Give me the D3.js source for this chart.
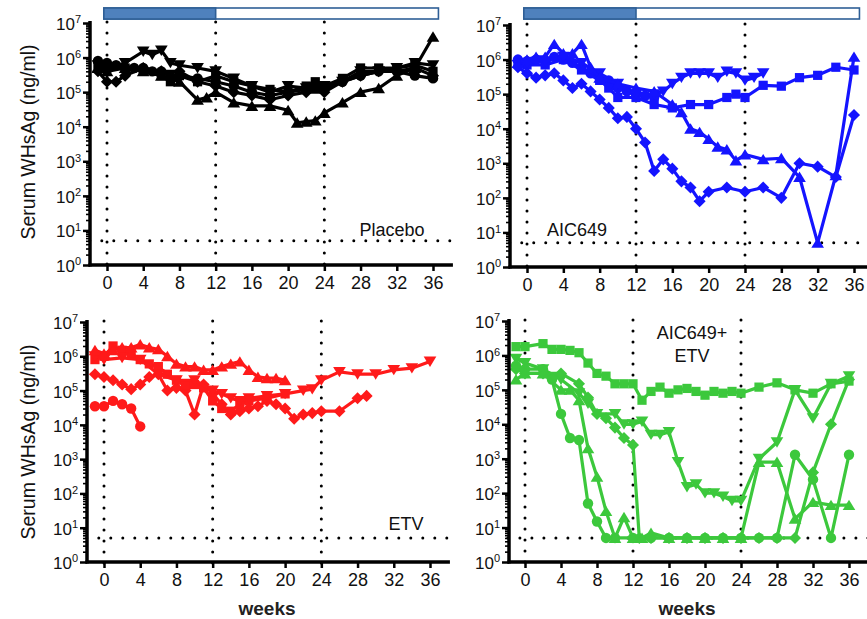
<!DOCTYPE html>
<html><head><meta charset="utf-8">
<script src="https://cdn.jsdelivr.net/npm/d3@7"></script>
<style>
body{margin:0;background:#fff;}
svg{display:block;font-family:Arial,"Liberation Sans",sans-serif;}
</style></head><body>
<svg id="c" width="867" height="619"></svg>
<script>
// ---------- data ----------
const weekTicks = [0,4,8,12,16,20,24,28,32,36];
const yTicks = [1,10,100,1000,1e4,1e5,1e6,1e7];
const yExponents = ["0","1","2","3","4","5","6","7"];
const vLines = [0,12,24];
const detectionLimit = 5;
const treatmentEnd = 12;
const panelLabels = ["Placebo","AIC649","ETV","AIC649+ETV"];
const yTitle = "Serum WHsAg (ng/ml)";
const xTitle = "weeks";

// Placebo (black)
const placeboCircle = [[-1,8e5],[0,7e5],[1,6e5],[2,5e5],[3,5e5],[4,5e5],[5,4e5],[6,4e5],[7,3e5],[8,3e5],[10,2.5e5],[12,2e5],[14,1.5e5],[16,1e5],[18,8e4],[20,1e5],[22,1.2e5],[24,1.2e5],[26,2e5],[28,3e5],[30,4e5],[32,4e5],[34,3e5],[36,2.5e5]];
const placeboSquare = [[-1,6e5],[0,5e5],[2,5e5],[4,4e5],[6,3e5],[7,2e5],[8,3e5],[10,2e5],[12,3e5],[14,2e5],[16,1.5e5],[18,1.2e5],[20,1e5],[22,1.5e5],[23,2e5],[24,1.5e5],[26,2.5e5],[28,5e5],[30,5e5],[32,5e5],[34,6e5],[36,4e5]];
const placeboTriUp = [[-1,5e5],[0,4e5],[2,5e5],[4,4e5],[6,3e5],[8,2e5],[10,6e4],[11,7e4],[12,1e5],[14,5e4],[16,4e4],[18,4e4],[20,3e4],[21,1.3e4],[22,1.4e4],[23,1.5e4],[24,2.5e4],[26,5e4],[28,1e5],[30,1.3e5],[32,3e5],[34,5e5],[36,4e6]];
const placeboTriDown = [[-1,6e5],[0,5e5],[2,7e5],[4,1.5e6],[5,1.2e6],[6,1.6e6],[7,7e5],[8,6e5],[10,5e5],[12,4e5],[14,2.5e5],[16,1.5e5],[18,1e5],[20,1.5e5],[22,1.3e5],[24,1.5e5],[26,2e5],[28,4e5],[30,4e5],[32,5e5],[34,7e5],[36,6e5]];
const placeboDiamond = [[-1,4e5],[0,2e5],[1,2e5],[2,3e5],[4,5e5],[6,4e5],[8,4e5],[10,2e5],[12,1.5e5],[14,1e5],[16,8e4],[18,6e4],[20,8e4],[22,1e5],[24,1e5],[26,2e5],[28,3e5],[30,4e5],[32,4e5],[34,5e5],[36,3e5]];

// AIC649 (blue)
const aicCircle = [[-1,1e6],[0,9e5],[1,1e6],[2,9e5],[3,1.2e6],[4,1e6],[5,8e5],[6,6e5],[7,4e5],[8,3e5],[9,2.5e5],[10,1.5e5],[11,1.2e5],[12,1e5],[13,9e4],[14,8e4]];
const aicTriDown = [[-1,7e5],[0,8e5],[2,9e5],[4,1.2e6],[6,8e5],[8,4e5],[10,2e5],[12,1e5],[14,1e5],[15,1.2e5],[16,2e5],[17,3e5],[18,4e5],[19,4e5],[20,4e5],[21,3e5],[22,4.5e5],[23,4e5],[24,2.5e5],[25,3e5],[26,4e5]];
const aicSquare = [[-1,8e5],[0,7e5],[2,7e5],[4,1e6],[6,5e5],[8,2.5e5],[9,1.5e5],[10,8e4],[12,8e4],[14,5e4],[16,4e4],[18,5e4],[20,5e4],[22,8e4],[23,1e5],[24,8e4],[26,1.8e5],[28,1.7e5],[30,3e5],[32,3.5e5],[34,6e5],[36,5e5]];
const aicTriUp = [[-1,8e5],[0,1e6],[1,1.2e6],[2,1.2e6],[3,2.8e6],[4,1.5e6],[5,1.5e6],[6,2.8e6],[7,6e5],[8,3e5],[10,2e5],[12,1.5e5],[14,1.2e5],[16,5e4],[17,3e4],[18,1e4],[19,8e3],[20,5e3],[21,3e3],[22,2.5e3],[23,1.2e3],[24,1.8e3],[26,1.3e3],[28,1.4e3],[30,4e2],[32,5],[34,4.5e2],[36,1.2e6]];
const aicDiamond = [[-1,6e5],[0,4e5],[1,3e5],[2,3.5e5],[3,4e5],[4,2.5e5],[5,1.5e5],[6,2e5],[7,1.2e5],[8,7e4],[9,4e4],[10,2e4],[11,2.2e4],[12,1e4],[13,4e3],[14,6e2],[15,1.3e3],[16,7e2],[17,3e2],[18,2e2],[19,8e1],[20,1.5e2],[22,2e2],[24,1.5e2],[26,2e2],[28,1e2],[30,1e3],[32,8e2],[34,4e2],[36,2.5e4]];

// ETV (red)
const etvCircle = [[-1,3.5e4],[0,3.5e4],[1,5e4],[2,4e4],[3,3e4],[4,9e3]];
const etvTriDown = [[-1,1e6],[0,8e5],[2,9e5],[4,8e5],[6,3e5],[8,2e5],[10,2e5],[12,1e5],[13,8e4],[14,6e4],[15,5e4],[16,6e4],[18,7e4],[20,8e4],[22,1e5],[23,1.1e5],[24,2e5],[26,3.5e5],[28,3e5],[30,3e5],[32,4e5],[34,4.5e5],[36,7e5]];
const etvTriUp = [[-1,1.5e6],[0,1.2e6],[1,1.5e6],[2,1.8e6],[3,1.8e6],[4,2.2e6],[5,1.8e6],[6,1.6e6],[7,1e6],[8,6e5],[9,5e5],[10,5e5],[11,4e5],[12,4e5],[13,5e5],[14,6e5],[15,7e5],[16,4e5],[17,2.5e5],[18,2.3e5],[19,2.3e5],[20,2e5]];
const etvSquare = [[-1,8e5],[0,1e6],[1,2e6],[2,1.5e6],[3,1.2e6],[4,8e5],[5,6e5],[6,5e5],[7,3e5],[8,2e5],[9,1.5e5],[10,1.5e5],[11,1.2e5],[12,5e4],[13,3e4],[14,2.5e4],[15,4e4],[16,5e4],[18,6e4],[20,8e4]];
const etvDiamond = [[-1,3e5],[0,2.5e5],[1,2e5],[2,1.5e5],[3,1.1e5],[4,1.5e5],[5,2.5e5],[6,3e5],[7,1e5],[8,1.2e5],[9,1e5],[10,2e4],[11,1.5e5],[12,8e4],[13,4e4],[14,2e4],[15,2.5e4],[16,3e4],[17,3.5e4],[18,5e4],[19,4e4],[20,3e4],[21,1.5e4],[22,2e4],[23,2.2e4],[24,2.5e4],[26,2.5e4],[28,6e4],[29,7e4]];

// AIC649+ETV (green)
const comboSquare = [[-1,1.8e6],[0,1.8e6],[2,2.2e6],[3,1.5e6],[4,1.5e6],[5,1.4e6],[6,1.2e6],[7,6e5],[8,3e5],[9,2.5e5],[10,1.5e5],[11,1.5e5],[12,1.5e5],[13,5e4],[14,9e4],[15,1.2e5],[16,8e4],[17,1e5],[18,1.1e5],[19,9e4],[20,7e4],[21,9e4],[22,8e4],[23,9e4],[24,8e4],[26,1.2e5],[28,1.6e5],[30,1e5],[32,8e4],[34,1.5e5],[36,1.8e5]];
const comboTriDown = [[-1,8e5],[0,6e5],[2,4e5],[4,2e5],[6,8e4],[7,4e4],[8,2e4],[10,2e4],[11,1e4],[12,1e4],[13,1.2e4],[14,5e3],[15,5e3],[16,6e3],[17,8e2],[18,1.5e2],[19,1.8e2],[20,1e2],[21,1e2],[22,8e1],[23,6e1],[24,6e1],[26,1e3],[28,3e3],[30,1e5],[32,1.5e4],[34,1.5e5],[36,2.5e5]];
const comboDiamond = [[-1,4e5],[0,3e5],[2,3e5],[4,3e5],[6,1.5e5],[7,6e4],[8,2e4],[9,1.5e4],[10,8e3],[11,4e3],[12,2.5e3],[12.7,5],[14,5],[16,5],[18,5],[20,5],[22,5],[24,5],[26,5],[28,5],[30,5],[32,4e2],[34,1e4],[36,2e5]];
const comboCircle = [[-1,5e5],[0,4e5],[2,4e5],[3,2e5],[4,2e4],[5,4e3],[6,3.5e3],[7,5e1],[8,1.5e1],[9,5],[10,5],[12,5],[14,5],[16,5],[18,5],[20,5],[22,5],[24,5],[26,5],[28,5],[30,1.3e3],[32,2.5e2],[34,5],[36,1.3e3]];
const comboTriUp = [[-1,2e5],[0,3e5],[2,3e5],[4,1e5],[5,1e5],[6,5e4],[7,2e3],[8,3e2],[9,3e1],[10,5],[11,2e1],[12,5],[13,5],[14,7],[16,5],[18,5],[20,5],[22,5],[24,5],[26,8e2],[28,8e2],[30,1.8e1],[32,5.5e1],[34,4.5e1],[36,4.5e1]];

// ---------- drawing ----------
const svg = d3.select("#c");
const symDown = {draw(ctx,size){const s=Math.sqrt(size)*1.15;ctx.moveTo(0,s*0.6);ctx.lineTo(s*0.7,-s*0.55);ctx.lineTo(-s*0.7,-s*0.55);ctx.closePath();}};
const symUp = {draw(ctx,size){const s=Math.sqrt(size)*1.15;ctx.moveTo(0,-s*0.6);ctx.lineTo(s*0.7,s*0.55);ctx.lineTo(-s*0.7,s*0.55);ctx.closePath();}};
const symDia = {draw(ctx,size){const s=Math.sqrt(size)*0.78;ctx.moveTo(0,-s);ctx.lineTo(s,0);ctx.lineTo(0,s);ctx.lineTo(-s,0);ctx.closePath();}};
const symSize = new Map([[d3.symbolCircle,85],[d3.symbolSquare,85],[symUp,62],[symDown,62],[symDia,60]]);

const panels = [
  {color:"#000000", axisX:90, x0:107, x36:433, yTop:23, yBot:265, bar:true,
   series:[[placeboCircle,d3.symbolCircle],[placeboSquare,d3.symbolSquare],[placeboTriUp,symUp],[placeboTriDown,symDown],[placeboDiamond,symDia]],
   labelPos:{x:392,y:236,lines:[panelLabels[0]]}, xTitle:false},
  {color:"#1414ff", axisX:510, x0:527, x36:854, yTop:25, yBot:267, bar:true,
   series:[[aicCircle,d3.symbolCircle],[aicSquare,d3.symbolSquare],[aicTriDown,symDown],[aicTriUp,symUp],[aicDiamond,symDia]],
   labelPos:{x:577,y:236,lines:[panelLabels[1]]}, xTitle:false},
  {color:"#ff1a1a", axisX:87, x0:104, x36:430, yTop:322, yBot:562, bar:false,
   series:[[etvCircle,d3.symbolCircle],[etvDiamond,symDia],[etvSquare,d3.symbolSquare],[etvTriDown,symDown],[etvTriUp,symUp]],
   labelPos:{x:406,y:530,lines:[panelLabels[2]]}, xTitle:true},
  {color:"#3cc83c", axisX:509, x0:525, x36:849, yTop:321, yBot:562, bar:false,
   series:[[comboSquare,d3.symbolSquare],[comboTriDown,symDown],[comboDiamond,symDia],[comboCircle,d3.symbolCircle],[comboTriUp,symUp]],
   labelPos:{x:692,y:339,lines:["AIC649+","ETV"]}, xTitle:true}
];

panels.forEach(p => {
  const g = svg.append("g");
  const x = d3.scaleLinear().domain([0,36]).range([p.x0,p.x36]);
  const y = d3.scaleLog().domain([1,1e7]).range([p.yBot,p.yTop]);
  const xEnd = x(38.2);

  // top treatment bar
  if (p.bar) {
    const bx0 = x(-0.35), bx1 = x(36.6);
    g.append("rect").attr("x",bx0).attr("y",8).attr("width",bx1-bx0).attr("height",11)
      .attr("fill","#fff").attr("stroke","#2f5f96").attr("stroke-width",1.6);
    g.append("rect").attr("x",bx0).attr("y",8).attr("width",x(treatmentEnd)-bx0).attr("height",11)
      .attr("fill","#4f81bd").attr("stroke","#2f5f96").attr("stroke-width",1.6);
  }

  // dotted reference lines
  vLines.forEach(w => {
    g.append("line").attr("x1",x(w)).attr("x2",x(w)).attr("y1",y(1e7)-1).attr("y2",y(1)+3)
      .attr("stroke","#000").attr("stroke-width",3).attr("stroke-linecap","round").attr("stroke-dasharray","0 11");
  });
  g.append("line").attr("x1",x(-1.9)).attr("x2",xEnd).attr("y1",y(detectionLimit)).attr("y2",y(detectionLimit))
    .attr("stroke","#000").attr("stroke-width",3).attr("stroke-linecap","round").attr("stroke-dasharray","0 12");

  // series
  const line = d3.line().x(d=>x(d[0])).y(d=>y(d[1]));
  p.series.forEach(([data,sym]) => {
    g.append("path").attr("d",line(data)).attr("fill","none").attr("stroke",p.color)
      .attr("stroke-width",3.2).attr("stroke-linejoin","round");
    g.selectAll(null).data(data).join("path")
      .attr("transform",d=>`translate(${x(d[0])},${y(d[1])})`)
      .attr("d",d3.symbol().type(sym).size(symSize.get(sym)))
      .attr("fill",p.color);
  });

  // y axis
  const minor = [];
  for (let e=0;e<7;e++) for (let k=2;k<10;k++) minor.push(k*Math.pow(10,e));
  const yMinor = g.append("g").attr("transform",`translate(${p.axisX},0)`)
    .call(d3.axisLeft(y).tickValues(minor).tickSize(4).tickFormat(""));
  yMinor.select(".domain").remove();
  yMinor.selectAll("line").attr("stroke-width",1.6);
  const yAx = g.append("g").attr("transform",`translate(${p.axisX},0)`)
    .call(d3.axisLeft(y).tickValues(yTicks).tickSize(7).tickPadding(3).tickFormat(""));
  yAx.select(".domain").attr("stroke-width",3.5).attr("d",`M0,${y(1e7)-2}V${y(1)+1.5}`);
  yAx.selectAll(".tick line").attr("stroke-width",2.5);
  yAx.selectAll(".tick text").each(function(d){
    const t = d3.select(this).attr("font-size",17).attr("fill","#111").attr("x",-9).attr("dy","0.38em").attr("text-anchor","end");
    t.append("tspan").text("10");
    t.append("tspan").attr("font-size",11).attr("dy","-0.6em").text(yExponents[yTicks.indexOf(d)]);
  });

  // x axis
  const xAx = g.append("g").attr("transform",`translate(0,${p.yBot})`)
    .call(d3.axisBottom(x).tickValues(weekTicks).tickSize(6).tickPadding(5).tickFormat(d3.format("d")));
  xAx.select(".domain").attr("stroke-width",3.5).attr("d",`M${p.axisX-1.5},0H${xEnd}`);
  xAx.selectAll(".tick line").attr("stroke-width",2.5);
  xAx.selectAll(".tick text").attr("font-size",18).attr("fill","#111").attr("font-family","Arial,'Liberation Sans',sans-serif");

  // panel label
  p.labelPos.lines.forEach((s,i) => {
    g.append("text").attr("x",p.labelPos.x).attr("y",p.labelPos.y+i*23).attr("text-anchor","middle")
      .attr("font-size",18).attr("fill","#111").text(s);
  });

  if (p.xTitle) {
    g.append("text").attr("x",x(18)).attr("y",615).attr("text-anchor","middle")
      .attr("font-size",19).attr("font-weight","bold").attr("fill","#222").text(xTitle);
  }
});

// y titles
[142,442].forEach(cy => {
  svg.append("text").attr("transform",`translate(35,${cy}) rotate(-90)`).attr("text-anchor","middle")
    .attr("font-size",19.5).attr("fill","#111").text(yTitle);
});
</script>
</body></html>
